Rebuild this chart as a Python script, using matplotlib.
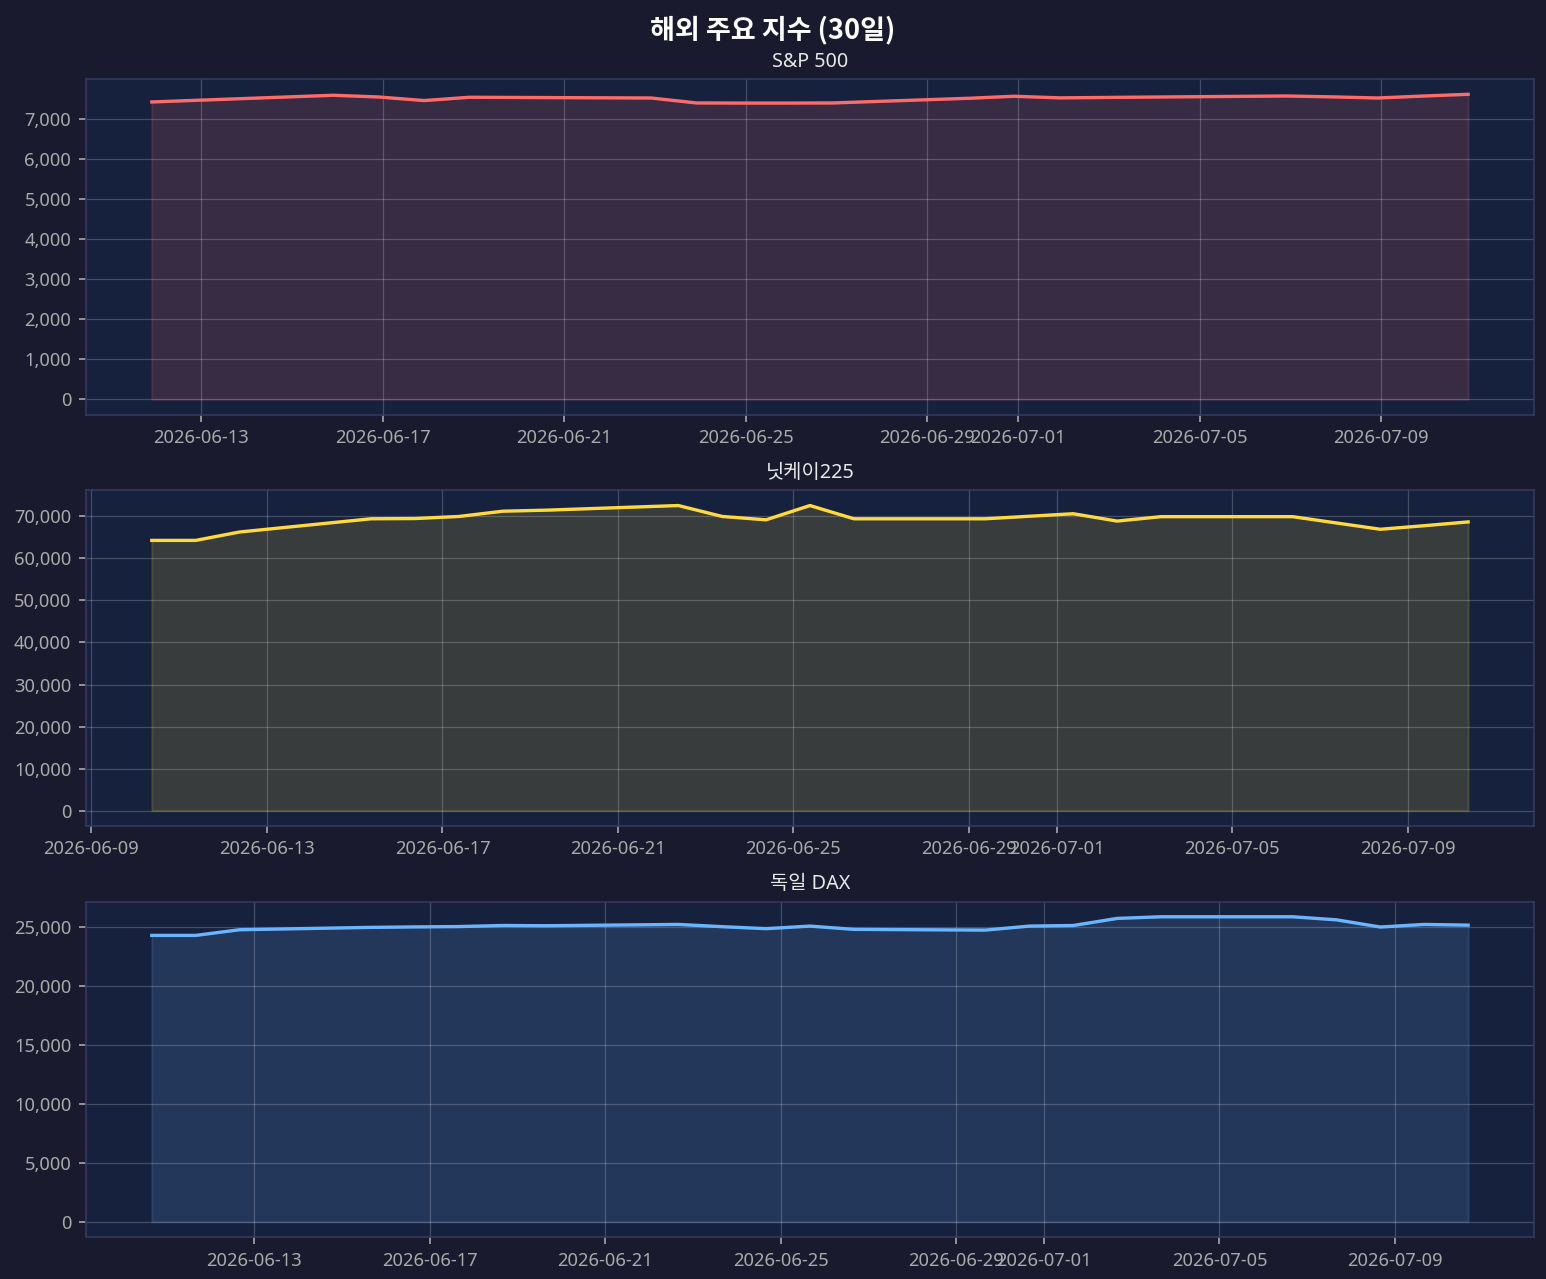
import matplotlib
matplotlib.use('Agg')
import matplotlib.pyplot as plt
import matplotlib.ticker as mticker
import pandas as pd

plt.rcParams['font.family'] = ['Noto Sans', 'Noto Sans CJK KR', 'DejaVu Sans']
plt.rcParams['axes.unicode_minus'] = False

# --- data (closing values, 30 days) ---
sp_dates = ['2026-06-11', '2026-06-12', '2026-06-15', '2026-06-16', '2026-06-17', '2026-06-18',
            '2026-06-19', '2026-06-22', '2026-06-23', '2026-06-24', '2026-06-25', '2026-06-26',
            '2026-06-29', '2026-06-30', '2026-07-01', '2026-07-02', '2026-07-03', '2026-07-06',
            '2026-07-07', '2026-07-08', '2026-07-09', '2026-07-10']
sp_values = [7413, 7455, 7580, 7537, 7448, 7530, 7525, 7512, 7388, 7385, 7385, 7388,
             7505, 7555, 7515, 7525, 7535, 7562, 7540, 7512, 7560, 7604]

asia_eu_dates = ['2026-06-10', '2026-06-11', '2026-06-12', '2026-06-15', '2026-06-16', '2026-06-17',
                 '2026-06-18', '2026-06-19', '2026-06-22', '2026-06-23', '2026-06-24', '2026-06-25',
                 '2026-06-26', '2026-06-29', '2026-06-30', '2026-07-01', '2026-07-02', '2026-07-03',
                 '2026-07-06', '2026-07-07', '2026-07-08', '2026-07-09', '2026-07-10']
nikkei_values = [64300, 64300, 66300, 69450, 69500, 70000, 71250, 71500, 72600, 70000, 69200, 72600,
                 69450, 69450, 70050, 70650, 68900, 69950, 69950, 68450, 66950, 67800, 68700]
dax_values = [24280, 24280, 24760, 24960, 25000, 25030, 25120, 25100, 25210, 25020, 24850, 25070,
              24790, 24730, 25070, 25120, 25720, 25860, 25860, 25600, 24990, 25210, 25150]

# timestamps taken at 18:00 local time (UTC)
sp_x = pd.to_datetime(sp_dates) + pd.Timedelta(hours=22)
nk_x = pd.to_datetime(asia_eu_dates) + pd.Timedelta(hours=9)
dax_x = pd.to_datetime(asia_eu_dates) + pd.Timedelta(hours=16)

series = [
    ('S&P 500', sp_x, sp_values, '#ff6b6b'),
    ('닛케이225', nk_x, nikkei_values, '#ffd93d'),
    ('독일 DAX', dax_x, dax_values, '#6bb5ff'),
]

BG = '#1a1a2e'
AX_BG = '#16213e'

fig, axes = plt.subplots(3, 1, figsize=(1546 / 150, 1279 / 150), dpi=150)
fig.patch.set_facecolor(BG)
fig.subplots_adjust(left=0.0556, right=0.9922, top=0.9382, bottom=0.0328, hspace=0.2256)

for ax, (name, x, y, c) in zip(axes, series):
    ax.set_facecolor(AX_BG)
    ax.plot(x, y, color=c, lw=1.6)
    ax.fill_between(x, y, 0, color=c, alpha=0.15)
    ax.set_title(name, color='#e8e8e8', fontsize=9.5)
    ax.grid(True, color='white', alpha=0.2, lw=0.6)
    ax.tick_params(colors='#aaaaaa', labelsize=8.8)
    ax.yaxis.set_major_formatter(mticker.FuncFormatter(lambda v, p: f'{v:,.0f}'))
    for s in ax.spines.values():
        s.set_color('#34395e')

fig.suptitle('해외 주요 지수 (30일)', color='white', fontsize=13, fontweight='bold', y=0.988,
             family=['Noto Sans CJK KR', 'DejaVu Sans'])
fig.savefig('out.png', facecolor=BG)
plt.close()
